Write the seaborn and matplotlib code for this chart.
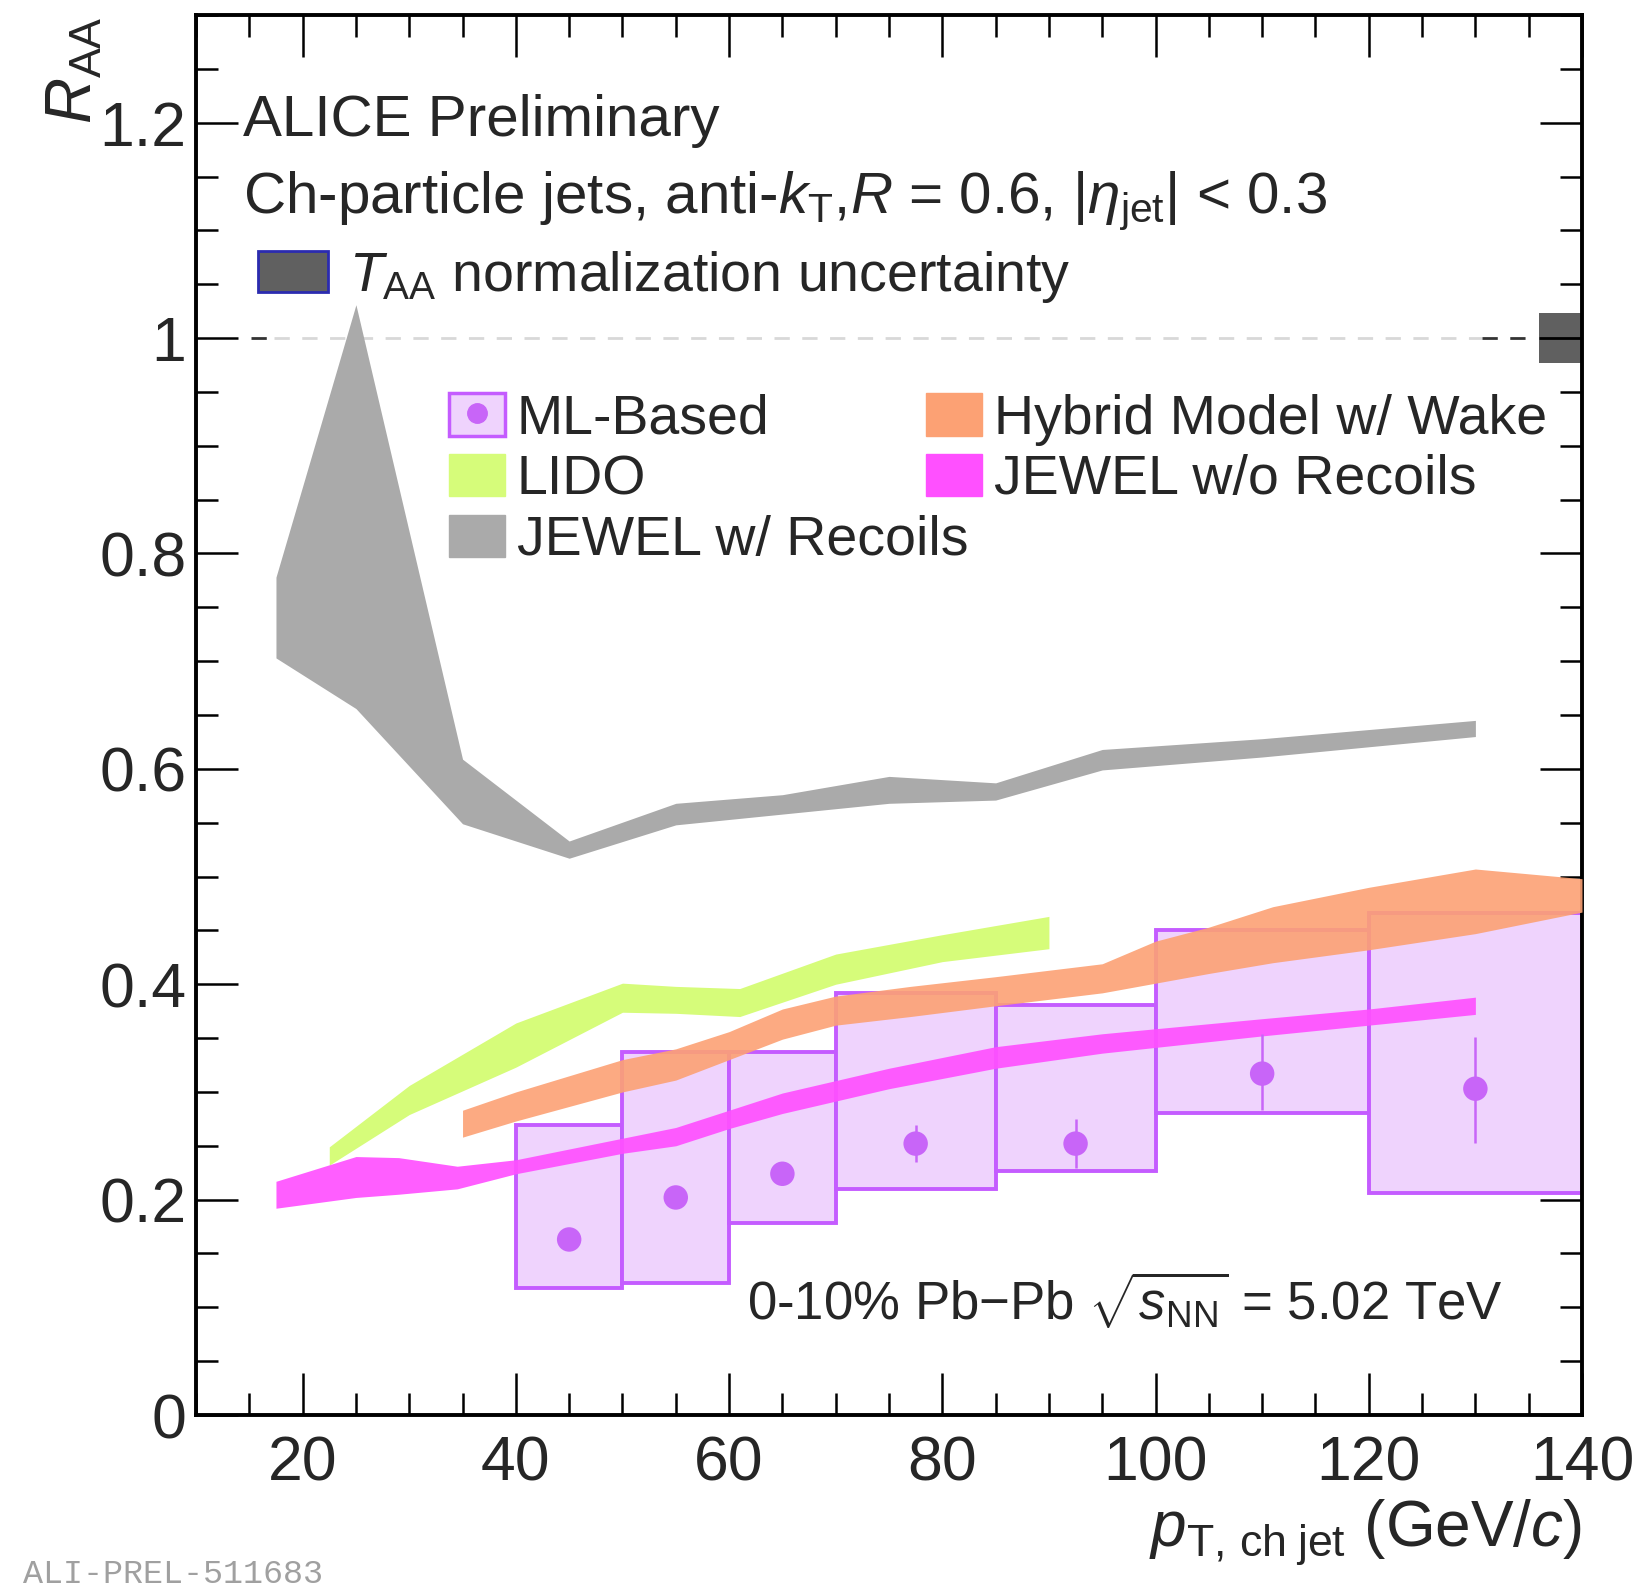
import matplotlib
matplotlib.use("Agg")
import matplotlib.pyplot as plt
import numpy as np
import seaborn as sns
from matplotlib.lines import Line2D
from matplotlib.patches import Patch
from matplotlib.ticker import FuncFormatter, MultipleLocator

# ML-based measurement (0-10% Pb-Pb, R = 0.6)
bin_lo = [40, 50, 60, 70, 85, 100, 120]
bin_hi = [50, 60, 70, 85, 100, 120, 140]
pt_centre = [45, 55, 65, 77.5, 92.5, 110, 130]
raa = [0.163, 0.202, 0.224, 0.252, 0.252, 0.317, 0.303]
stat_lo = [0.008, 0.008, 0.008, 0.017, 0.023, 0.034, 0.050]
stat_hi = [0.008, 0.008, 0.008, 0.017, 0.023, 0.037, 0.048]
sys_lo = [0.118, 0.123, 0.178, 0.210, 0.227, 0.280, 0.206]
sys_hi = [0.269, 0.337, 0.337, 0.392, 0.381, 0.450, 0.466]

# model bands
jewel_rec_x = [17.5, 25, 35, 45, 55, 65, 75, 85, 95, 110, 130]
jewel_rec_lo = [0.703, 0.656, 0.549, 0.517, 0.548, 0.558, 0.568, 0.571, 0.599, 0.611, 0.630]
jewel_rec_hi = [0.778, 1.031, 0.609, 0.533, 0.568, 0.576, 0.593, 0.587, 0.618, 0.628, 0.645]

lido_x = [22.5, 30, 40, 50, 55, 61, 70, 80, 90]
lido_lo = [0.232, 0.279, 0.323, 0.374, 0.373, 0.370, 0.400, 0.421, 0.433]
lido_hi = [0.249, 0.306, 0.364, 0.401, 0.398, 0.396, 0.428, 0.446, 0.463]

hybrid_x = [35, 40, 50, 55, 60, 65, 70, 77, 85, 95, 100, 105, 111, 120, 130, 140]
hybrid_lo = [0.258, 0.273, 0.300, 0.311, 0.330, 0.349, 0.362, 0.370, 0.380, 0.392,
             0.401, 0.410, 0.420, 0.432, 0.447, 0.467]
hybrid_hi = [0.283, 0.300, 0.330, 0.340, 0.356, 0.377, 0.389, 0.398, 0.407, 0.419,
             0.440, 0.453, 0.472, 0.490, 0.507, 0.498]

jewel_norec_x = [17.5, 25, 29, 34.5, 40, 50, 55, 60, 65, 75, 85, 95, 110, 120, 130]
jewel_norec_lo = [0.192, 0.202, 0.205, 0.210, 0.224, 0.243, 0.250, 0.266, 0.280, 0.303,
                  0.322, 0.336, 0.352, 0.362, 0.372]
jewel_norec_hi = [0.217, 0.240, 0.239, 0.231, 0.237, 0.257, 0.267, 0.283, 0.299, 0.322,
                  0.342, 0.354, 0.368, 0.377, 0.388]

# T_AA normalisation uncertainty box at unity
taa_x = [136, 140]
taa_unc = 0.023

box_fill = "#efd3fd"
box_edge = "#c45cff"
marker_col = "#c865f8"
lido_col = "#d6fc7a"
gray_col = "#aaaaaa"
hybrid_col = "#fca174"
magenta_col = "#ff50ff"

sns.set_theme(style="ticks")
plt.rcParams["font.family"] = ["Liberation Sans", "DejaVu Sans"]
plt.rcParams["mathtext.fontset"] = "custom"
plt.rcParams["mathtext.rm"] = "Liberation Sans"
plt.rcParams["mathtext.it"] = "Liberation Sans:italic"
plt.rcParams["mathtext.bf"] = "Liberation Sans:bold"
plt.rcParams["axes.linewidth"] = 2.8

fig = plt.figure(figsize=(16.45, 15.88), dpi=100)
ax = fig.add_axes([0.11915, 0.10894, 0.84255, 0.88161])

ax.bar(bin_lo, np.subtract(sys_hi, sys_lo), width=np.subtract(bin_hi, bin_lo), bottom=sys_lo,
       align="edge", color=box_fill, edgecolor=box_edge, linewidth=2.8, zorder=1)

ax.fill_between(jewel_rec_x, jewel_rec_lo, jewel_rec_hi, color=gray_col, lw=0, zorder=2)
ax.fill_between(lido_x, lido_lo, lido_hi, color=lido_col, lw=0, zorder=2)
ax.fill_between(hybrid_x, hybrid_lo, hybrid_hi, color=hybrid_col, alpha=0.9, lw=0, zorder=3)
ax.fill_between(jewel_norec_x, jewel_norec_lo, jewel_norec_hi, color=magenta_col, alpha=0.92,
                lw=0, zorder=4)

ax.errorbar(pt_centre, raa, yerr=[stat_lo, stat_hi], fmt="none", ecolor=marker_col,
            elinewidth=1.8, capsize=0, zorder=5)
sns.scatterplot(x=pt_centre, y=raa, ax=ax, color=marker_col, s=310, edgecolor="none",
                legend=False, zorder=6)

# unity line: dark at the ends, faded where the legend sits
ax.hlines(1, 15.2, 17, colors="#333333", linestyles=(0, (5.5, 4.5)), lw=2, zorder=1)
ax.hlines(1, 17.3, 130.6, colors="#d8d8d8", linestyles=(0, (5.5, 4.5)), lw=2, zorder=1)
ax.hlines(1, 130.6, 135.5, colors="#333333", linestyles=(0, (5.5, 4.5)), lw=2, zorder=1)
ax.fill_between(taa_x, 1 - taa_unc, 1 + taa_unc, color="#606060", lw=0, zorder=2)
ax.hlines(1, taa_x[0], taa_x[1], colors="black", lw=2, zorder=3)

ax.set_xlim(10, 140)
ax.set_ylim(0, 1.3)
ax.xaxis.set_major_locator(MultipleLocator(20))
ax.xaxis.set_minor_locator(MultipleLocator(5))
ax.yaxis.set_major_locator(MultipleLocator(0.2))
ax.yaxis.set_minor_locator(MultipleLocator(0.05))
ax.yaxis.set_major_formatter(FuncFormatter(lambda v, p: f"{v:g}"))
ax.tick_params(which="both", direction="in", top=True, right=True, width=1.8, color="black")
ax.tick_params(which="major", length=30)
ax.tick_params(which="minor", length=16)
ax.tick_params(axis="x", which="major", labelsize=45, pad=14)
ax.tick_params(axis="y", which="major", labelsize=45, pad=7)
for s in ax.spines.values():
    s.set_color("black")
ax.set_xlabel("")
ax.set_ylabel("")

ax.text(0.0339, 0.9136, "ALICE Preliminary", transform=ax.transAxes, fontsize=42, va="baseline")
ax.text(0.0339, 0.8586,
        r"Ch-particle jets, anti-$k_{\mathrm{T}}$,$R$ = 0.6, |$\eta_{\mathrm{jet}}$| < 0.3",
        transform=ax.transAxes, fontsize=42, va="baseline")

taa_handle = Patch(facecolor="#606060", edgecolor="#2b2bb0", linewidth=2)
leg0 = ax.legend([taa_handle], [r"$T_{\mathrm{AA}}$ normalization uncertainty"], loc="upper left",
                 bbox_to_anchor=(0.0447, 0.8330), frameon=False, fontsize=40, handlelength=1.26,
                 handleheight=0.78, handletextpad=0.38, borderpad=0, borderaxespad=0)
ax.add_artist(leg0)

ml_handle = (Patch(facecolor=box_fill, edgecolor=box_edge, linewidth=2.5),
             Line2D([], [], marker="o", ls="none", color=marker_col, markersize=14))
col1 = [ml_handle, Patch(color=lido_col), Patch(color=gray_col)]
col1_lab = ["ML-Based", "LIDO", "JEWEL w/ Recoils"]
col2 = [Patch(color=hybrid_col), Patch(color=magenta_col)]
col2_lab = ["Hybrid Model w/ Wake", "JEWEL w/o Recoils"]
leg_kw = dict(loc="upper left", frameon=False, fontsize=40, handlelength=1.0,
              handleheight=0.8, handletextpad=0.22, labelspacing=0.15, borderpad=0,
              borderaxespad=0)
leg1 = ax.legend(col1, col1_lab, bbox_to_anchor=(0.1825, 0.7300), **leg_kw)
ax.add_artist(leg1)
ax.legend(col2, col2_lab, bbox_to_anchor=(0.5267, 0.7300), **leg_kw)

ax.text(61.7, 0.088, r"0-10% Pb$-$Pb $\sqrt{s_{\mathrm{NN}}}$ = 5.02 TeV", fontsize=38,
        va="baseline")

fig.text(0.9617, 0.026, r"$p_{\mathrm{T,\,ch\;jet}}$ (GeV/$c$)", ha="right", va="baseline",
         fontsize=46)
fig.text(0.0456, 0.99, r"$R_{\mathrm{AA}}$", rotation=90, ha="center", va="top", fontsize=46)
fig.text(0.014, 0.0088, "ALI-PREL-511683", family=["Liberation Mono", "DejaVu Sans Mono"],
         fontsize=24, color="#a0a0a0", va="center")

fig.savefig("out.png", dpi=100)
